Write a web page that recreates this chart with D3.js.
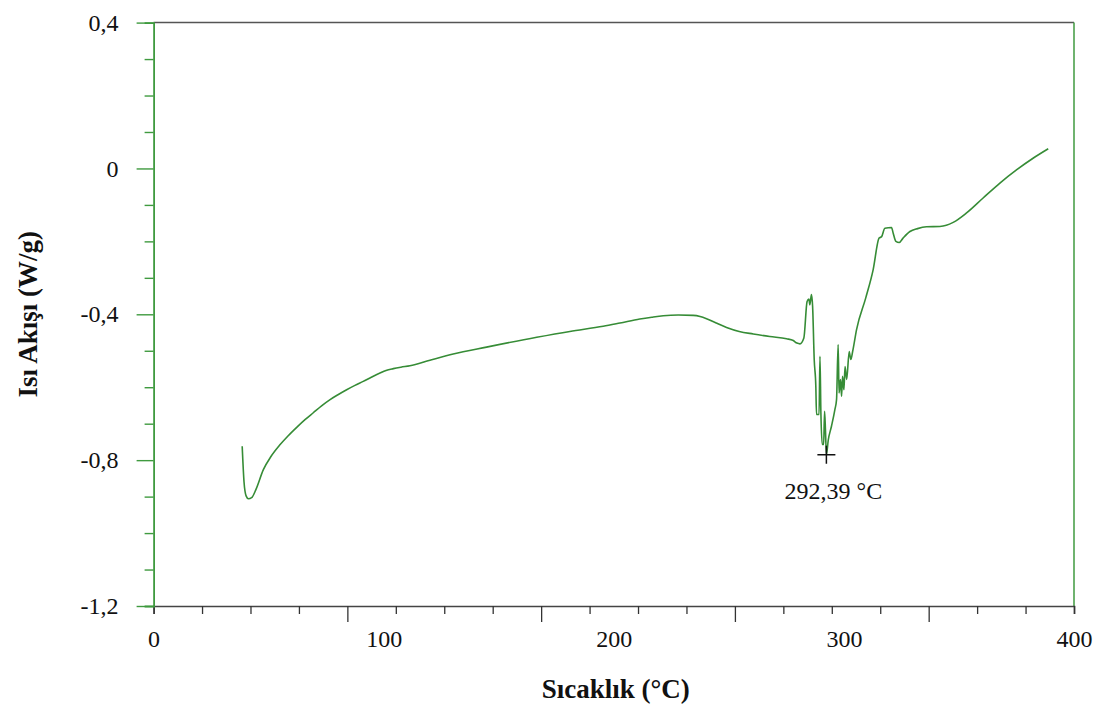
<!DOCTYPE html>
<html>
<head>
<meta charset="utf-8">
<script src="https://cdn.jsdelivr.net/npm/d3@7"></script>
<style>
  html, body { margin: 0; padding: 0; background: #fff; }
  svg { display: block; }
  svg text { font-family: "Liberation Serif", serif; fill: #111; }
</style>
</head>
<body>
<svg id="chart" width="1112" height="713"></svg>
<script>
// DSC thermogram: temperature (°C) vs heat flow (W/g)
const temperature = [
  38.5, 39.3, 40.2, 41.2, 42.6, 44.5, 47.7, 51.0, 54.9, 58.5, 62.2, 65.8, 69.4, 73.0, 76.7, 80.3,
  83.9, 87.5, 91.1, 94.8, 98.4, 101.0, 104.2, 107.5, 111.4, 120.1, 130.2, 144.7, 166.5, 180.9,
  195.4, 202.7, 211.3, 216.5, 221.5, 228.0, 234.5, 237.5, 240.3, 244.5, 249.0, 254.5, 260.6,
  267.8, 275.1, 278.0, 279.6, 280.9, 282.6,
  284.0, 284.8, 285.2, 285.9, 286.4, 287.1, 287.8, 288.1, 289.2, 289.6,
  290.0, 290.6, 291.2, 291.6, 292.0, 292.39, 293.2, 294.6, 296.1, 296.8,
  297.5, 297.9, 298.5, 299.0, 299.4, 300.0, 300.5, 301.2, 302.3, 303.0,
  303.8, 305.5, 309.5, 312.7, 315.3, 316.4, 317.8, 320.7, 321.4, 322.6,
  324.0, 325.7, 328.7, 332.0, 335.9, 341.7, 344.5, 347.5, 353.3, 360.5, 367.8, 375.0,
  382.2, 388.8
];
const heatFlow = [
  -0.762, -0.860, -0.898, -0.906, -0.903, -0.880, -0.826, -0.790, -0.758, -0.733, -0.710, -0.689, -0.670, -0.651, -0.634, -0.620,
  -0.607, -0.595, -0.584, -0.572, -0.561, -0.554, -0.549, -0.545, -0.541, -0.526, -0.509, -0.490, -0.463, -0.447,
  -0.433, -0.424, -0.413, -0.408, -0.404, -0.402, -0.403, -0.406, -0.412, -0.424, -0.436, -0.447, -0.454,
  -0.461, -0.467, -0.472, -0.479, -0.481, -0.465,
  -0.365, -0.358, -0.374, -0.346, -0.378, -0.524, -0.598, -0.675, -0.675, -0.515,
  -0.670, -0.757, -0.757, -0.666, -0.720, -0.785, -0.745, -0.707, -0.661, -0.634,
  -0.483, -0.616, -0.579, -0.625, -0.570, -0.607, -0.543, -0.579, -0.502, -0.524,
  -0.502, -0.442, -0.355, -0.278, -0.191, -0.187, -0.164, -0.162, -0.177, -0.200,
  -0.203, -0.191, -0.173, -0.165, -0.160, -0.159, -0.156, -0.148, -0.122, -0.081, -0.040, -0.004,
  0.028, 0.054
];

// axis labels
const xTickValues = [0, 100, 200, 300, 400];
const xTickLabels = ["0", "100", "200", "300", "400"];
const yTickValues = [0.4, 0, -0.4, -0.8, -1.2];
const yTickLabels = ["0,4", "0", "-0,4", "-0,8", "-1,2"];
const xTitle = "Sıcaklık (°C)";
const yTitle = "Isı Akışı (W/g)";

// annotated endothermic peak
const peakTemp = 292.39;
const peakFlow = -0.785;
const peakLabel = "292,39 °C";

const svg = d3.select("#chart");
const plotLeft = 153.6, plotRight = 1074, plotTop = 22.6, plotBottom = 606;
const lineGreen = "#368c36";
const axisGreen = "#3f9a3f";
const serif = "'Liberation Serif', serif";

const x = d3.scaleLinear().domain([0, 400]).range([plotLeft, plotRight]);
const y = d3.scaleLinear().domain([-1.2, 0.4]).range([plotBottom, plotTop]);

// frame: top in grey, right in green
svg.append("line").attr("x1", plotLeft).attr("x2", plotRight).attr("y1", plotTop).attr("y2", plotTop)
  .attr("stroke", "#555").attr("stroke-width", 1.5);
svg.append("line").attr("x1", plotRight).attr("x2", plotRight).attr("y1", plotTop).attr("y2", plotBottom)
  .attr("stroke", axisGreen).attr("stroke-width", 1.5);

// x tick marks: 19 equal intervals, every 4th one longer
const xMarks = d3.range(20).map(i => i * 400 / 19);
const gxMarks = svg.append("g").attr("transform", `translate(0,${plotBottom})`)
  .call(d3.axisBottom(x).tickValues(xMarks).tickFormat("").tickSizeOuter(0).tickSize(8));
gxMarks.selectAll(".tick line")
  .attr("y2", (d, i) => (i % 4 === 0 && i > 0 && i < 19) ? 16 : 8)
  .attr("stroke", "#333").attr("stroke-width", 1.3);
gxMarks.select(".domain").attr("stroke", "#444").attr("stroke-width", 1.6);

// x labels
const gxLab = svg.append("g").attr("transform", `translate(0,${plotBottom})`)
  .call(d3.axisBottom(x).tickValues(xTickValues)
    .tickFormat((d, i) => xTickLabels[i]).tickSize(0).tickPadding(24));
gxLab.select(".domain").remove();
gxLab.attr("font-family", serif);
gxLab.selectAll("text").style("font-size", "24px").style("font-family", serif).attr("fill", "#111");

// y axis: minor ticks every 0.1, labelled every 0.4
const yMarks = d3.range(17).map(i => -1.2 + i * 0.1);
const gyMarks = svg.append("g").attr("transform", `translate(${plotLeft},0)`)
  .call(d3.axisLeft(y).tickValues(yMarks).tickFormat("").tickSizeOuter(0).tickSize(9));
gyMarks.selectAll(".tick line")
  .attr("x2", (d, i) => (i % 4 === 0) ? -17 : -9)
  .attr("stroke", axisGreen).attr("stroke-width", 1.4);
gyMarks.select(".domain").attr("stroke", axisGreen).attr("stroke-width", 1.8);

const gyLab = svg.append("g").attr("transform", `translate(${plotLeft},0)`)
  .call(d3.axisLeft(y).tickValues(yTickValues)
    .tickFormat((d, i) => yTickLabels[i]).tickSize(0).tickPadding(35));
gyLab.select(".domain").remove();
gyLab.attr("font-family", serif);
gyLab.selectAll("text").style("font-size", "24px").style("font-family", serif).attr("fill", "#111");

// axis titles
svg.append("text").attr("x", (plotLeft + plotRight) / 2 + 2).attr("y", 698)
  .attr("text-anchor", "middle").style("font-family", serif)
  .style("font-size", "27px").style("font-weight", "bold")
  .text(xTitle);
svg.append("text").attr("transform", `translate(37,${(plotTop + plotBottom) / 2}) rotate(-90)`)
  .attr("text-anchor", "middle").style("font-family", serif)
  .style("font-size", "27px").style("font-weight", "bold")
  .text(yTitle);

// heat flow curve
const pts = temperature.map((t, i) => [t, heatFlow[i]]);
svg.append("path").datum(pts)
  .attr("fill", "none").attr("stroke", lineGreen).attr("stroke-width", 1.6)
  .attr("stroke-linejoin", "round")
  .attr("d", d3.line().curve(d3.curveMonotoneX).x(d => x(d[0])).y(d => y(d[1])));

// peak marker and label
const px = x(peakTemp), py = y(peakFlow);
svg.append("path")
  .attr("d", `M${px - 9},${py}H${px + 9}M${px},${py - 9}V${py + 9}`)
  .attr("stroke", "#111").attr("stroke-width", 1.5).attr("fill", "none");
svg.append("text").attr("x", px + 7).attr("y", py + 44)
  .attr("text-anchor", "middle").style("font-family", serif)
  .style("font-size", "24px").text(peakLabel);
</script>
</body>
</html>
